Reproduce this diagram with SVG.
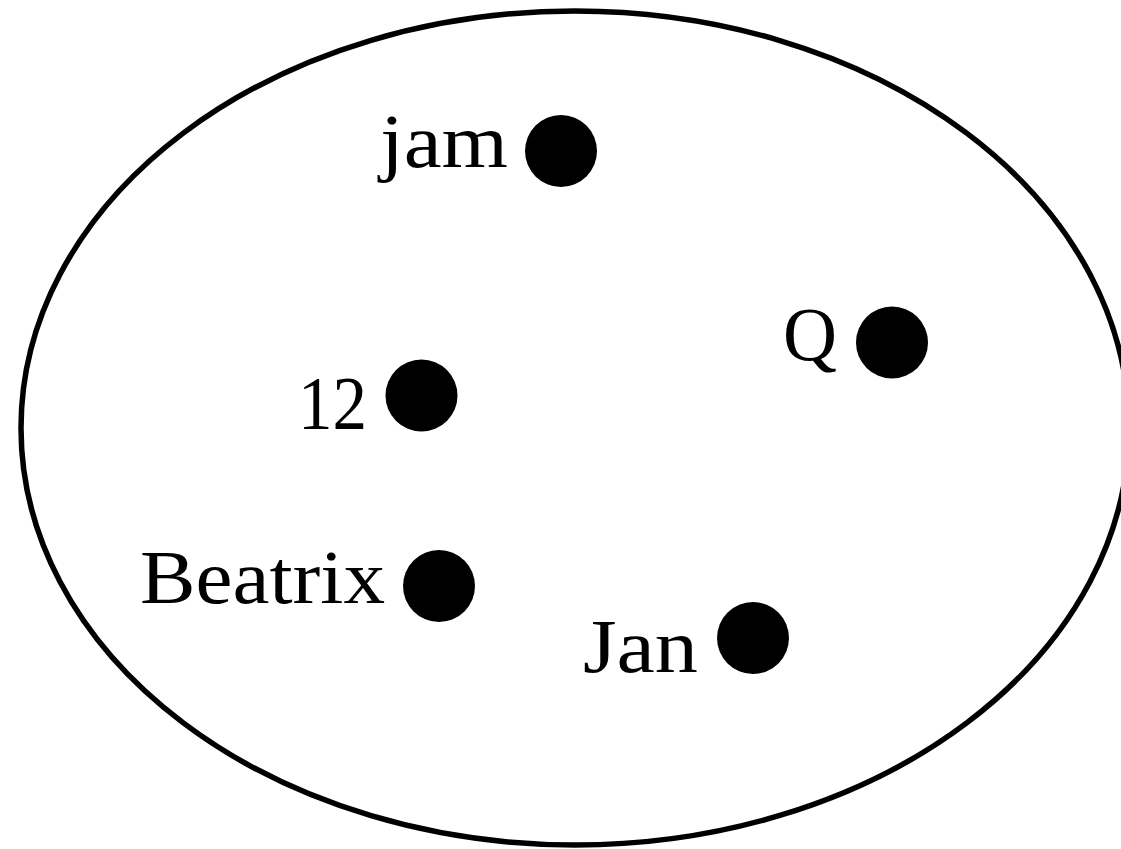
<svg xmlns="http://www.w3.org/2000/svg" width="1121" height="849" viewBox="0 0 1121 849">
<style>
.lbl{font-family:"Liberation Serif","Times New Roman",serif;font-size:77px;fill:#000}
.dot{fill:#000}
</style>
<rect width="1121" height="849" fill="#fff"/>
<g id="set">
<ellipse cx="575" cy="428" rx="554" ry="417" fill="none" stroke="#000" stroke-width="5.5"/>
</g>
<g id="node-jam"><circle class="dot" cx="561" cy="151" r="36"/><text class="lbl" x="380" y="167" textLength="128" lengthAdjust="spacingAndGlyphs">jam</text></g>
<g id="node-Q"><circle class="dot" cx="892" cy="342.5" r="36"/><text class="lbl" x="783" y="360" textLength="54" lengthAdjust="spacingAndGlyphs">Q</text></g>
<g id="node-12"><circle class="dot" cx="421.5" cy="395.5" r="36"/><text class="lbl" x="298" y="429" textLength="69" lengthAdjust="spacingAndGlyphs">12</text></g>
<g id="node-Beatrix"><circle class="dot" cx="439" cy="586" r="36"/><text class="lbl" x="140" y="603" textLength="245" lengthAdjust="spacingAndGlyphs">Beatrix</text></g>
<g id="node-Jan"><circle class="dot" cx="753" cy="638" r="36"/><text class="lbl" x="583" y="672" textLength="115" lengthAdjust="spacingAndGlyphs">Jan</text></g>
</svg>
